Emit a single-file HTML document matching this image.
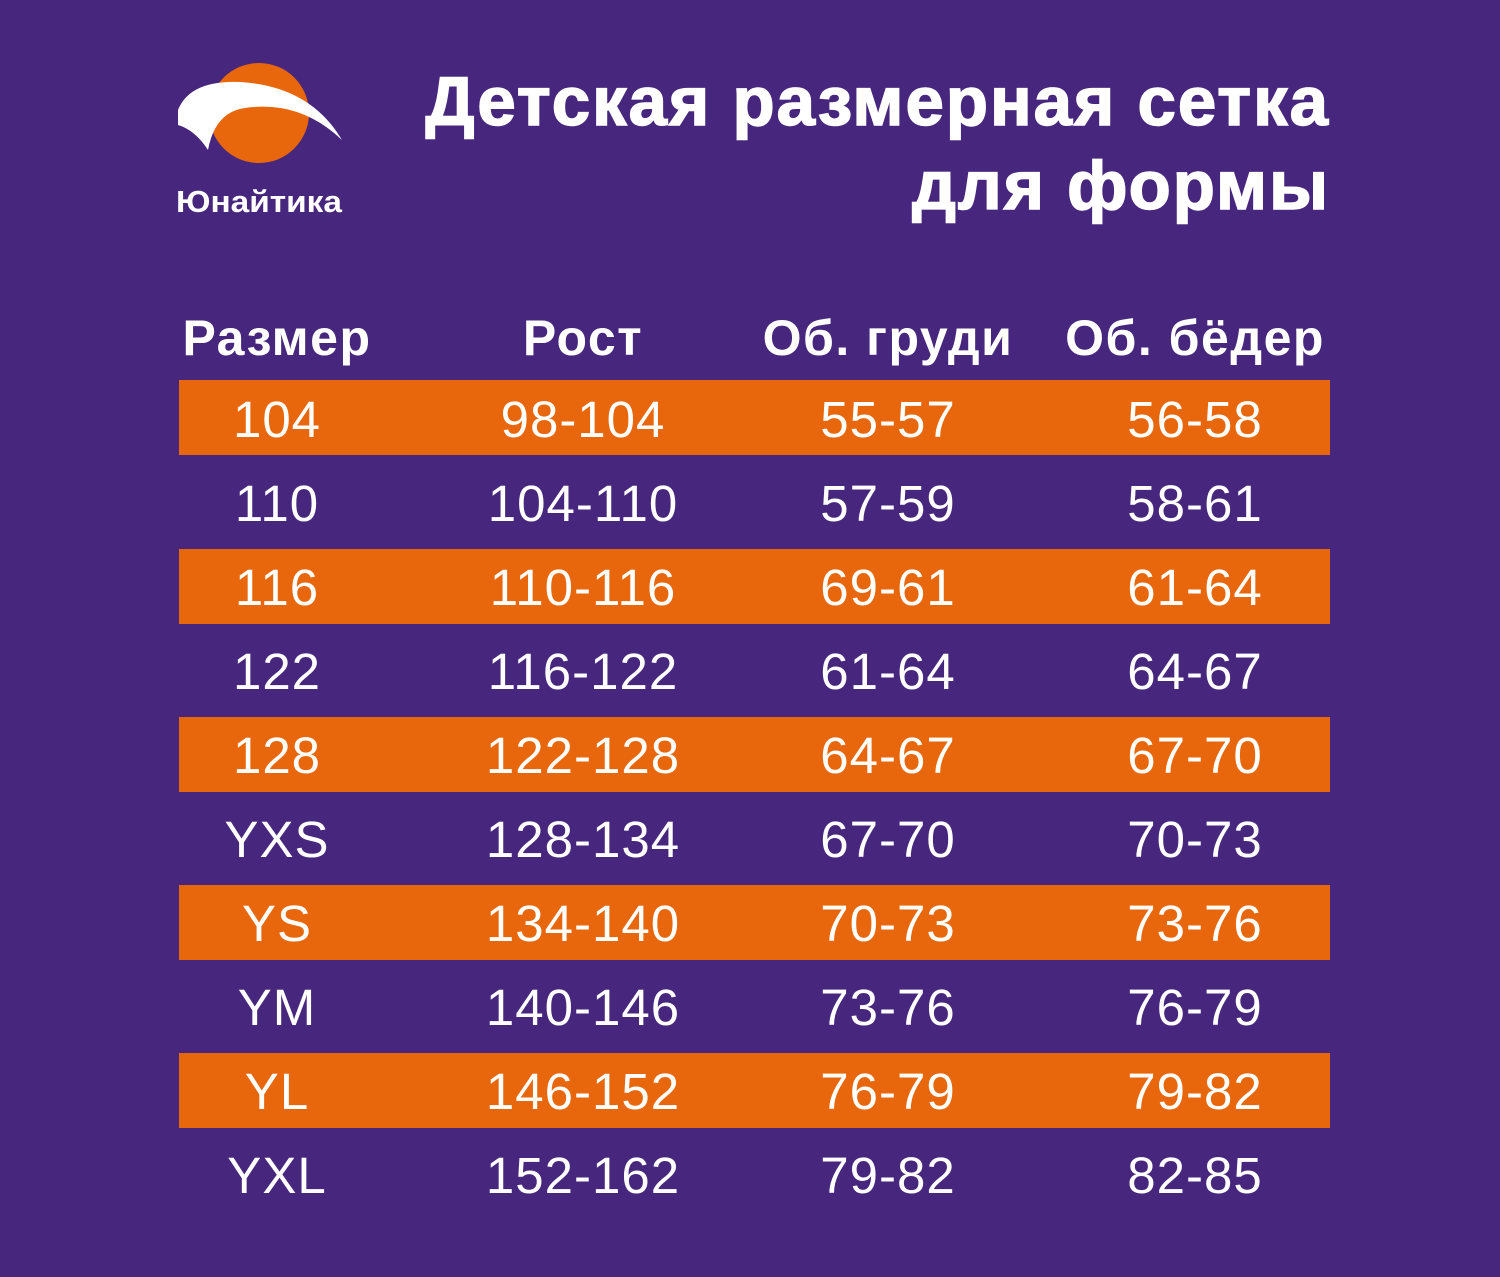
<!DOCTYPE html>
<html><head><meta charset="utf-8"><style>
body{margin:0;width:1500px;height:1277px;background:#47277d;position:relative;overflow:hidden;font-family:"Liberation Sans",sans-serif;color:#fff}
.t{position:absolute;right:170px;font-weight:bold;font-size:69px;line-height:82px;text-align:right;letter-spacing:2px;-webkit-text-stroke:1.5px #fff}
.band{position:absolute;left:179px;width:1151px;height:75px;background:#e8670c}
.c{position:absolute;width:300px;text-align:center;font-size:51px;line-height:84px;letter-spacing:1px}
.h{position:absolute;width:340px;text-align:center;font-size:50px;font-weight:bold;line-height:60px;letter-spacing:1.5px}
</style></head><body>
<svg style="position:absolute;left:0;top:0" width="400" height="240">
<circle cx="259" cy="113" r="50" fill="#e8670c"/>
<path d="M178 110 Q190 80 240 82 Q310 86 342 140 Q300 100 245 108 Q215 112 208 150 Q195 130 178 125 Z" fill="#fff"/>
<text x="176" y="212" font-family="Liberation Sans" font-size="31" font-weight="bold" fill="#fff" textLength="166" lengthAdjust="spacingAndGlyphs">Юнайтика</text>
</svg>
<div class="t" style="top:61px">Детская размерная сетка</div>
<div class="t" style="top:145px">для формы</div>
<div class="h" style="left:107px;top:308px">Размер</div>
<div class="h" style="left:413px;top:308px">Рост</div>
<div class="h" style="left:718px;top:308px">Об. груди</div>
<div class="h" style="left:1025px;top:308px">Об. бёдер</div>
<div class="band" style="top:380px"></div>
<div class="band" style="top:549px"></div>
<div class="band" style="top:717px"></div>
<div class="band" style="top:885px"></div>
<div class="band" style="top:1053px"></div>
<div id="rows"></div>
<script>
var d=[["104","98-104","55-57","56-58"],["110","104-110","57-59","58-61"],["116","110-116","69-61","61-64"],["122","116-122","61-64","64-67"],["128","122-128","64-67","67-70"],["YXS","128-134","67-70","70-73"],["YS","134-140","70-73","73-76"],["YM","140-146","73-76","76-79"],["YL","146-152","76-79","79-82"],["YXL","152-162","79-82","82-85"]];
var x=[127,433,738,1045],h="";
d.forEach(function(r,i){r.forEach(function(v,j){h+='<div class="c" style="left:'+x[j]+'px;top:'+(378+i*84)+'px">'+v+'</div>';});});
document.getElementById("rows").innerHTML=h;
</script>
</body></html>
